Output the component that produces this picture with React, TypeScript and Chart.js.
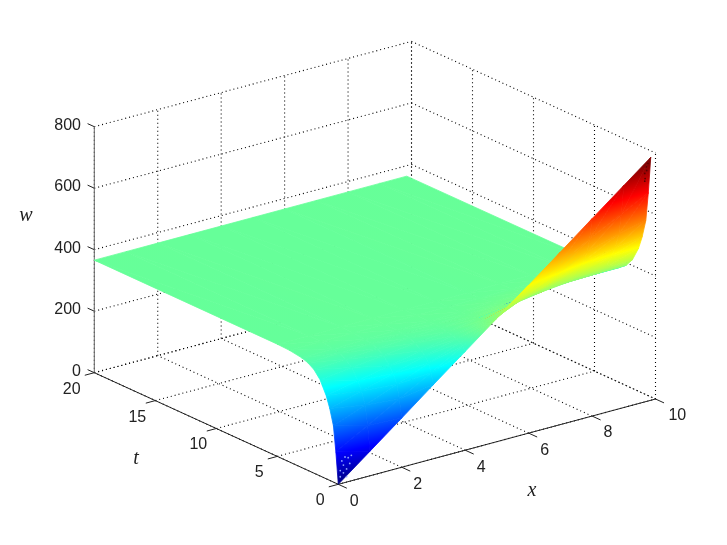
import React, { useEffect, useRef } from "react";
import { Chart, registerables } from "chart.js";

Chart.register(...registerables);

// ---- data ----
const xGrid = [0, 1, 2, 3, 4, 5, 6, 7, 8, 9, 9.85];
const tGrid = [0, 0.2, 0.4, 0.7, 1, 1.5, 2, 2.5, 3, 4, 5, 20];
const wAtX0 = [0, 102, 183, 234, 271, 313, 337, 350, 357, 363, 365, 366];
const wAtX1 = [80, 160, 223, 263, 292, 325, 343, 353, 359, 364, 365, 366];
const wAtX2 = [160, 218, 263, 292, 312, 336, 350, 357, 361, 364, 365, 366];
const wAtX3 = [241, 276, 303, 321, 334, 348, 356, 360, 363, 365, 366, 366];
const wAtX4 = [321, 334, 343, 350, 354, 359, 362, 364, 365, 366, 366, 366];
const wAtX5 = [401, 392, 386, 382, 378, 373, 370, 368, 367, 366, 366, 366];
const wAtX6 = [481, 452, 433, 418, 406, 389, 380, 374, 371, 367, 366, 366];
const wAtX7 = [561, 512, 479, 454, 434, 405, 389, 380, 374, 368, 367, 366];
const wAtX8 = [642, 573, 526, 490, 463, 421, 399, 385, 377, 369, 367, 366];
const wAtX9 = [722, 626, 558, 508, 473, 427, 402, 387, 378, 370, 367, 366];
const wAtXEnd = [790, 671, 578, 519, 476, 430, 403, 387, 378, 369, 367, 366];
const wRows = [wAtX0, wAtX1, wAtX2, wAtX3, wAtX4, wAtX5, wAtX6, wAtX7, wAtX8, wAtX9, wAtXEnd];

// gaps in the dense mesh near the two tips of the surface: [x, t, w]
const lowTipSpecks = [
  [0.2, 0.1, 30], [0.1, 0.1, 40], [0.3, 0.1, 40], [0.4, 0.1, 55], [0.15, 0.1, 70], [0.25, 0.1, 80],
  [0.35, 0.1, 75], [0.1, 0.1, 20], [0.3, 0.1, 15], [0.45, 0.1, 80], [0.2, 0.1, 55],
];
const highTipSpecks = [
  [9.7, 0.1, 740], [9.75, 0.1, 760], [9.8, 0.1, 770], [9.8, 0.2, 745], [9.7, 0.1, 715], [9.75, 0.2, 720],
];

const xTicks = [0, 2, 4, 6, 8, 10];
const tTicks = [0, 5, 10, 15, 20];
const wTicks = [0, 200, 400, 600, 800];
const colorMax = 770;

// ---- view: axes of the 3D box on the picture plane ----
const ORIGIN = { x: 338.3, y: 484.3 };
const X_UNIT = { x: 31.72, y: -8.53 };
const T_UNIT = { x: -12.2, y: -5.58 };
const W_UNIT = 246 / 800;

function project(x: number, t: number, w: number) {
  return {
    x: ORIGIN.x + x * X_UNIT.x + t * T_UNIT.x,
    y: ORIGIN.y + x * X_UNIT.y + t * T_UNIT.y - w * W_UNIT,
  };
}

const JET: [number, string][] = [
  [0, "#000080"],
  [0.125, "#0000ff"],
  [0.375, "#00ffff"],
  [0.625, "#ffff00"],
  [0.875, "#ff0000"],
  [1, "#800000"],
];

function jetAt(v: number) {
  const c = Math.max(0, Math.min(1, v));
  const r = Math.max(0, Math.min(1, Math.min(4 * c - 1.5, -4 * c + 4.5)));
  const g = Math.max(0, Math.min(1, Math.min(4 * c - 0.5, -4 * c + 3.5)));
  const b = Math.max(0, Math.min(1, Math.min(4 * c + 0.5, -4 * c + 2.5)));
  return `rgb(${Math.round(r * 255)},${Math.round(g * 255)},${Math.round(b * 255)})`;
}

// ---- datasets ----
function specksDataset(list: number[][], color: string) {
  return {
    data: list.map(([x, t, w]) => project(x, t, w)),
    showLine: false,
    pointRadius: 0.9,
    pointBorderWidth: 0,
    pointBackgroundColor: color,
  };
}

function surfaceDatasets() {
  const out: any[] = [];
  const tri = (a: number[], b: number[], c: number[]) => {
    const pts = [a, b, c];
    out.push({
      data: pts.map(([i, j]) => project(xGrid[i], tGrid[j], wRows[i][j])),
      shade: pts.map(([i, j]) => wRows[i][j]),
      showLine: false,
      pointRadius: 0,
    });
  };
  // nearest first: Chart.js paints the last dataset first
  for (let j = 0; j < tGrid.length - 1; j++) {
    for (let i = 0; i < xGrid.length - 1; i++) {
      tri([i, j], [i + 1, j], [i, j + 1]);
      tri([i + 1, j], [i + 1, j + 1], [i, j + 1]);
    }
  }
  return out;
}

function lineDataset(pts: { x: number; y: number }[], color: string, width: number, dash: number[] = []) {
  return {
    data: pts,
    showLine: true,
    pointRadius: 0,
    borderColor: color,
    borderWidth: width,
    borderDash: dash,
    tension: 0,
    fill: false,
  };
}

function frameDatasets() {
  const out: any[] = [];
  const DOT = [1, 3];
  const dotted = (a: number[], b: number[]) =>
    out.push(lineDataset([project(a[0], a[1], a[2]), project(b[0], b[1], b[2])], "#000", 1.1, DOT));
  const solid = (a: number[], b: number[], color: string) =>
    out.push(lineDataset([project(a[0], a[1], a[2]), project(b[0], b[1], b[2])], color, 1));

  const xEnd = xTicks[xTicks.length - 1];
  const tEnd = tTicks[tTicks.length - 1];
  const wEnd = wTicks[wTicks.length - 1];

  // axes and tick marks sit above the dotted grid
  solid([0, 0, 0], [xEnd, 0, 0], "#222");
  solid([0, 0, 0], [0, tEnd, 0], "#222");
  solid([0, tEnd, 0], [0, tEnd, wEnd], "#666");
  xTicks.forEach((x) => solid([x, 0, 0], [x, -0.7, 0], "#222"));
  tTicks.forEach((t) => solid([0, t, 0], [-0.3, t, 0], "#222"));
  wTicks.forEach((w) => solid([0, tEnd, w], [0, tEnd + 0.55, w], "#222"));

  xTicks.forEach((x) => {
    dotted([x, 0, 0], [x, tEnd, 0]);
    dotted([x, tEnd, 0], [x, tEnd, wEnd]);
  });
  tTicks.forEach((t) => {
    dotted([0, t, 0], [xEnd, t, 0]);
    dotted([xEnd, t, 0], [xEnd, t, wEnd]);
  });
  wTicks.forEach((w) => {
    dotted([0, tEnd, w], [xEnd, tEnd, w]);
    dotted([xEnd, tEnd, w], [xEnd, 0, w]);
  });
  return out;
}

// ---- plugin: shades each surface triangle by w, and writes the axis text ----
const shadePlugin = {
  id: "shade",
  beforeDatasetDraw(chart: any, args: any) {
    const ds = chart.data.datasets[args.index];
    if (!ds.shade) return;
    const p = args.meta.data;
    const [w0, w1, w2] = ds.shade;
    const ctx = chart.ctx;
    const dx1 = p[1].x - p[0].x, dy1 = p[1].y - p[0].y;
    const dx2 = p[2].x - p[0].x, dy2 = p[2].y - p[0].y;
    const det = dx1 * dy2 - dx2 * dy1;
    let style: any = jetAt(((w0 + w1 + w2) / 3) / colorMax);
    if (Math.abs(det) > 1e-6 && (w0 !== w1 || w1 !== w2)) {
      const gx = ((w1 - w0) * dy2 - (w2 - w0) * dy1) / det;
      const gy = ((w2 - w0) * dx1 - (w1 - w0) * dx2) / det;
      const g2 = gx * gx + gy * gy;
      if (g2 > 1e-9) {
        const a = -w0 / g2;
        const b = (colorMax - w0) / g2;
        const grad = ctx.createLinearGradient(p[0].x + gx * a, p[0].y + gy * a, p[0].x + gx * b, p[0].y + gy * b);
        JET.forEach(([s, c]) => grad.addColorStop(s, c));
        style = grad;
      }
    }
    ctx.save();
    ctx.fillStyle = style;
    ctx.strokeStyle = style;
    ctx.lineWidth = 0.8;
    ctx.lineJoin = "round";
    ctx.beginPath();
    ctx.moveTo(p[0].x, p[0].y);
    ctx.lineTo(p[1].x, p[1].y);
    ctx.lineTo(p[2].x, p[2].y);
    ctx.closePath();
    ctx.fill();
    ctx.stroke();
    ctx.restore();
  },
  afterDraw(chart: any) {
    const ctx = chart.ctx;
    const sx = chart.scales.x, sy = chart.scales.y;
    const put = (s: string, px: number, py: number, align: CanvasTextAlign = "center") => {
      ctx.textAlign = align;
      ctx.fillText(s, sx.getPixelForValue(px), sy.getPixelForValue(py));
    };
    ctx.save();
    ctx.fillStyle = "#222";
    ctx.textBaseline = "middle";
    ctx.font = '16px "Liberation Sans"';
    xTicks.forEach((x) => {
      const p = project(x, 0, 0);
      put(String(x), p.x + (x === 10 ? 21.8 : 16), p.y + 17);
    });
    tTicks.forEach((t) => {
      const p = project(0, t, 0);
      put(String(t), p.x - (t === 20 ? 22.6 : 18), p.y + 16.5);
    });
    wTicks.forEach((w) => {
      const p = project(0, 20, w);
      put(String(w), 81, p.y - 1.5, "right");
    });
    ctx.font = 'italic 20px "Liberation Serif"';
    put("w", 26, 216);
    put("t", 136, 459);
    put("x", 532, 491);
    ctx.restore();
  },
};

export default function App() {
  const ref = useRef<HTMLCanvasElement>(null);
  useEffect(() => {
    if (!ref.current) return;
    const chart = new Chart(ref.current, {
      type: "scatter",
      data: {
        datasets: [
          specksDataset(lowTipSpecks, "#8fa4ff"),
          specksDataset(highTipSpecks, "#5a0000"),
          ...surfaceDatasets(),
          ...frameDatasets(),
        ],
      },
      options: {
        animation: false,
        responsive: false,
        events: [],
        layout: { padding: 0, autoPadding: false },
        plugins: { legend: { display: false }, tooltip: { enabled: false }, title: { display: false } },
        scales: {
          x: { type: "linear", min: 0, max: 727, display: false },
          y: { type: "linear", min: 0, max: 545, reverse: true, display: false },
        },
      },
      plugins: [shadePlugin],
    } as any);
    return () => chart.destroy();
  }, []);
  return (
    <canvas
      ref={ref}
      width={727}
      height={545}
      style={{ position: "absolute", left: 0, top: 0, width: 727, height: 545, background: "#fff" }}
    />
  );
}
